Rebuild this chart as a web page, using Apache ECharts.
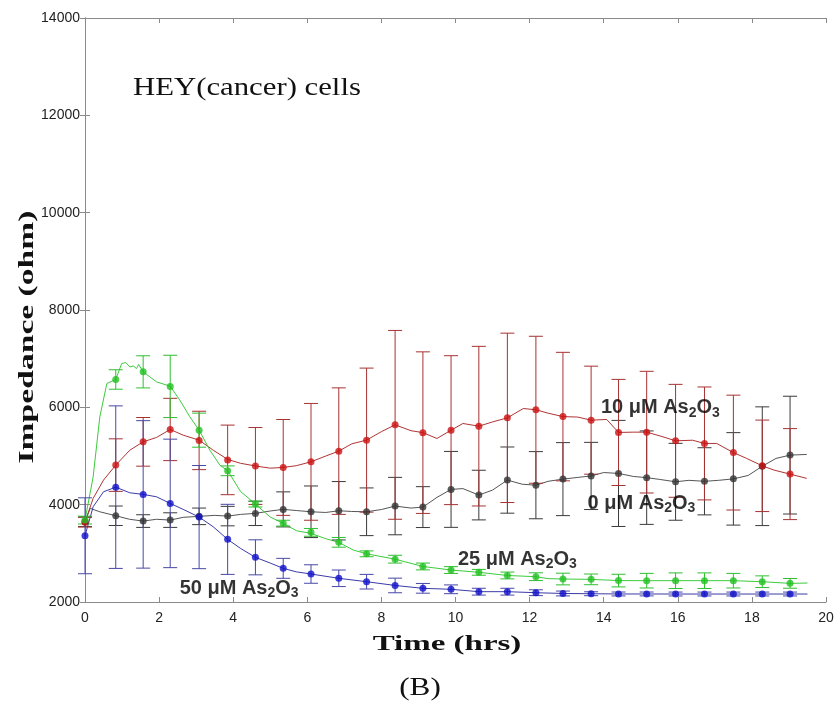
<!DOCTYPE html>
<html>
<head>
<meta charset="utf-8">
<script src="https://cdn.jsdelivr.net/npm/echarts@6/dist/echarts.min.js"></script>
<style>
html,body{margin:0;padding:0;background:#fff;}
#chart{width:837px;height:704px;}
</style>
</head>
<body>
<div id="chart"></div>
<script>
// ---- data ----
const xTicks = { min: 0, max: 20, interval: 2 };
const yTicks = { min: 2000, max: 14000, interval: 2000 };

const markerT = [0, 0.83, 1.57, 2.3, 3.08, 3.85, 4.6, 5.35, 6.1, 6.85, 7.6, 8.37, 9.12, 9.88, 10.63, 11.4, 12.17, 12.9, 13.66, 14.4, 15.16, 15.94, 16.72, 17.5, 18.28, 19.03];

const redMean  = [3640, 4813, 5291, 5545, 5320, 4920, 4795, 4765, 4880, 5100, 5326, 5640, 5480, 5531, 5613, 5784, 5950, 5810, 5736, 5484, 5490, 5312, 5258, 5070, 4798, 4628];
const redErr   = [100, 540, 500, 640, 600, 715, 790, 985, 1200, 1300, 1480, 1940, 1660, 1530, 1640, 1740, 1510, 1320, 1110, 1090, 1250, 1160, 1160, 1180, 940, 935];

const blackMean = [3650, 3772, 3663, 3683, 3760, 3765, 3821, 3903, 3854, 3875, 3854, 3971, 3950, 4314, 4197, 4505, 4400, 4525, 4590, 4642, 4555, 4470, 4480, 4530, 4790, 5018];
const blackErr  = [100, 200, 130, 150, 170, 200, 250, 360, 530, 600, 490, 590, 420, 780, 510, 680, 690, 750, 690, 1090, 960, 790, 690, 950, 1220, 1210];

const greenMean = [3683, 6572, 6729, 6430, 5531, 4696, 4012, 3620, 3431, 3226, 2990, 2880, 2730, 2657, 2610, 2545, 2520, 2472, 2465, 2440, 2438, 2438, 2438, 2438, 2417, 2383];
const greenErr  = [80, 200, 330, 640, 350, 100, 60, 60, 80, 100, 60, 80, 70, 70, 60, 70, 80, 120, 110, 130, 150, 160, 160, 150, 120, 100];

const blueMean = [3361, 4360, 4211, 4026, 3745, 3287, 2918, 2692, 2575, 2487, 2417, 2340, 2281, 2261, 2212, 2212, 2191, 2175, 2170, 2165, 2165, 2164, 2164, 2164, 2164, 2164];
const blueErr  = [780, 1670, 1515, 1320, 1060, 720, 360, 205, 190, 170, 150, 150, 100, 90, 70, 70, 60, 50, 40, 40, 40, 40, 40, 40, 40, 40];

const redLine = [[0,3640],[0.22,4129],[0.5,4505],[0.83,4813],[1.21,5120],[1.57,5291],[1.93,5381],[2.3,5545],[2.65,5428],[3.08,5326],[3.46,5120],[3.85,4930],[4.2,4850],[4.6,4795],[5.0,4750],[5.35,4765],[5.7,4800],[6.1,4880],[6.5,5000],[6.85,5100],[7.2,5250],[7.6,5326],[8.0,5500],[8.37,5640],[8.8,5520],[9.12,5480],[9.5,5360],[9.88,5531],[10.2,5668],[10.63,5613],[11.0,5700],[11.4,5784],[11.83,5976],[12.17,5950],[12.5,5880],[12.9,5810],[13.3,5800],[13.66,5736],[14.08,5751],[14.4,5484],[14.8,5490],[15.16,5490],[15.6,5394],[15.94,5312],[16.4,5324],[16.72,5258],[17.05,5258],[17.5,5070],[17.86,4950],[18.28,4798],[18.6,4710],[19.03,4628],[19.48,4540]];
const blackLine = [[0,3650],[0.14,3923],[0.4,3854],[0.83,3772],[1.2,3700],[1.57,3663],[1.93,3700],[2.3,3683],[2.65,3740],[3.08,3760],[3.5,3780],[3.85,3765],[4.2,3800],[4.6,3821],[5.0,3870],[5.35,3903],[5.7,3880],[6.1,3854],[6.5,3840],[6.85,3875],[7.2,3860],[7.6,3854],[8.0,3900],[8.37,3971],[8.8,3930],[9.12,3950],[9.5,4150],[9.88,4314],[10.2,4330],[10.63,4197],[11.0,4300],[11.4,4505],[11.8,4420],[12.17,4400],[12.5,4480],[12.9,4525],[13.3,4560],[13.66,4590],[14.0,4660],[14.4,4642],[14.8,4580],[15.16,4555],[15.5,4520],[15.94,4470],[16.3,4500],[16.72,4480],[17.1,4500],[17.5,4530],[17.9,4600],[18.28,4790],[18.65,4950],[19.03,5018],[19.48,5032]];
const greenLine = [[0,3683],[0.22,4572],[0.4,5805],[0.59,6490],[0.83,6572],[0.99,6900],[1.1,6920],[1.21,6831],[1.3,6850],[1.39,6798],[1.45,6880],[1.57,6729],[1.93,6524],[2.3,6434],[2.56,6147],[2.83,5805],[3.08,5531],[3.37,5120],[3.64,4813],[3.85,4696],[4.2,4270],[4.6,4012],[4.99,3751],[5.35,3615],[5.71,3464],[6.1,3410],[6.5,3300],[6.85,3226],[7.24,3068],[7.6,2990],[8.37,2880],[9.12,2730],[9.88,2657],[10.63,2610],[11.4,2545],[12.17,2520],[12.5,2480],[12.9,2472],[13.66,2465],[14.4,2440],[15.16,2438],[15.94,2438],[16.72,2438],[17.5,2438],[18.28,2417],[19.03,2383],[19.5,2390]];
const blueLine = [[0,3361],[0.22,3957],[0.5,4265],[0.83,4360],[1.21,4244],[1.57,4211],[1.93,4162],[2.3,4026],[2.65,3903],[3.08,3745],[3.46,3546],[3.85,3287],[4.2,3100],[4.6,2918],[5.0,2800],[5.35,2692],[5.7,2620],[6.1,2575],[6.85,2487],[7.6,2417],[8.37,2340],[9.12,2281],[9.88,2261],[10.63,2212],[11.4,2212],[12.17,2191],[12.9,2175],[13.66,2170],[14.4,2165],[15.16,2165],[15.94,2164],[16.72,2164],[17.5,2164],[18.28,2164],[19.03,2164],[19.5,2164]];

const annoNames = ['10 μM', '0 μM', '25 μM', '50 μM'];
const annoT = [15.53, 15.02, 11.67, 4.16];
const annoV = [6003, 4032, 2883, 2287];

// ---- chart ----
const chart = echarts.init(document.getElementById('chart'), null, { renderer: 'canvas' });
const SANS = '"Liberation Sans", Arial, sans-serif';
const SERIF = '"Liberation Serif", "Times New Roman", serif';
const axisGray = '#8a8a8a';

function errSeries(name, means, errs, color) {
  return {
    type: 'custom',
    name: name + ' err',
    z: 3,
    data: markerT.map((t, i) => [t, means[i] - errs[i], means[i] + errs[i]]),
    encode: { x: 0, y: [1, 2] },
    renderItem: function (params, api) {
      const x = api.value(0);
      const lo = api.coord([x, api.value(1)]);
      const hi = api.coord([x, api.value(2)]);
      const w = 7;
      const st = { stroke: color, lineWidth: 1 };
      return {
        type: 'group',
        children: [
          { type: 'line', shape: { x1: lo[0], y1: lo[1], x2: hi[0], y2: hi[1] }, style: st },
          { type: 'line', shape: { x1: hi[0] - w, y1: hi[1], x2: hi[0] + w, y2: hi[1] }, style: st },
          { type: 'line', shape: { x1: lo[0] - w, y1: lo[1], x2: lo[0] + w, y2: lo[1] }, style: st }
        ]
      };
    }
  };
}
function lineSeries(name, data, color) {
  return { type: 'line', name: name, data: data, showSymbol: false, symbol: 'none', z: 2,
    lineStyle: { color: color, width: 1 }, animation: false };
}
function markSeries(name, means, color) {
  return { type: 'scatter', name: name + ' pts', z: 4, symbol: 'circle', symbolSize: 7,
    itemStyle: { color: color }, data: markerT.map((t, i) => [t, means[i]]) };
}

const axisCommon = {
  type: 'value',
  axisLine: { show: true, lineStyle: { color: axisGray, width: 1 } },
  axisTick: { show: true, inside: true, length: 5, lineStyle: { color: axisGray } },
  splitLine: { show: false }
};

const option = {
  animation: false,
  backgroundColor: '#fff',
  textStyle: { fontFamily: SANS },
  grid: { left: 85, top: 18, width: 741, height: 584, outerBoundsMode: 'none', containLabel: false },
  xAxis: [
    Object.assign({}, axisCommon, { position: 'bottom', min: xTicks.min, max: xTicks.max, interval: xTicks.interval,
      axisLabel: { show: true, color: '#222', fontSize: 14, fontFamily: SANS, margin: 9, formatter: v => String(v) } }),
    Object.assign({}, axisCommon, { position: 'top', min: xTicks.min, max: xTicks.max, interval: xTicks.interval,
      axisLabel: { show: false } })
  ],
  yAxis: [
    Object.assign({}, axisCommon, { position: 'left', min: yTicks.min, max: yTicks.max, interval: yTicks.interval,
      axisLabel: { show: true, color: '#222', fontSize: 14, fontFamily: SANS, margin: 5, formatter: v => String(v) } }),
    Object.assign({}, axisCommon, { position: 'right', min: yTicks.min, max: yTicks.max, interval: yTicks.interval,
      axisLabel: { show: false } })
  ],
  series: [
    lineSeries('0 μM', blackLine, '#555555'),
    lineSeries('10 μM', redLine, '#b03434'),
    lineSeries('25 μM', greenLine, '#3ccc3c'),
    lineSeries('50 μM', blueLine, '#3b3ba8'),
    errSeries('0 μM', blackMean, blackErr, '#3a3a3a'),
    errSeries('10 μM', redMean, redErr, '#a83232'),
    errSeries('25 μM', greenMean, greenErr, '#2fbf2f'),
    errSeries('50 μM', blueMean, blueErr, '#4848a8'),
    markSeries('0 μM', blackMean, '#333333'),
    markSeries('10 μM', redMean, '#cc1111'),
    markSeries('25 μM', greenMean, '#22c022'),
    markSeries('50 μM', blueMean, '#1010cc'),
    {
      type: 'scatter', name: 'labels', z: 6, symbolSize: 0, silent: true,
      itemStyle: { color: '#000' },
      data: annoT.map((t, i) => ({ value: [t, annoV[i]], name: annoNames[i] })),
      label: {
        show: true, position: 'inside', color: '#000', textBorderWidth: 0, textBorderColor: 'transparent',
        formatter: function (p) { return '{a|' + p.name + ' As}{s|2}{a|O}{s|3}'; },
        rich: {
          a: { fontFamily: SANS, fontWeight: 'bold', fontSize: 20, color: '#000', lineHeight: 22, textBorderWidth: 0 },
          s: { fontFamily: SANS, fontWeight: 'bold', fontSize: 14, color: '#000', padding: [11, 0, 0, 0], textBorderWidth: 0 }
        }
      }
    }
  ],
  graphic: [
    { type: 'text', x: 133, y: 88, scaleX: 1.23, silent: true,
      style: { x: 0, y: 0, text: 'HEY(cancer) cells', font: '25px ' + SERIF, fill: '#111', textAlign: 'left', textVerticalAlign: 'middle' } },
    { type: 'text', x: 447, y: 645, scaleX: 1.57, silent: true,
      style: { x: 0, y: 0, text: 'Time (hrs)', font: 'bold 21px ' + SERIF, fill: '#111', textAlign: 'center', textVerticalAlign: 'middle' } },
    { type: 'text', x: 28, y: 337, rotation: Math.PI / 2, scaleX: 1.6, silent: true,
      style: { x: 0, y: 0, text: 'Impedance (ohm)', font: 'bold 21px ' + SERIF, fill: '#111', textAlign: 'center', textVerticalAlign: 'middle' } },
    { type: 'text', x: 420, y: 688, scaleX: 1.2, silent: true,
      style: { x: 0, y: 0, text: '(B)', font: '26px ' + SERIF, fill: '#111', textAlign: 'center', textVerticalAlign: 'middle' } }
  ]
};
chart.setOption(option);
</script>
</body>
</html>
